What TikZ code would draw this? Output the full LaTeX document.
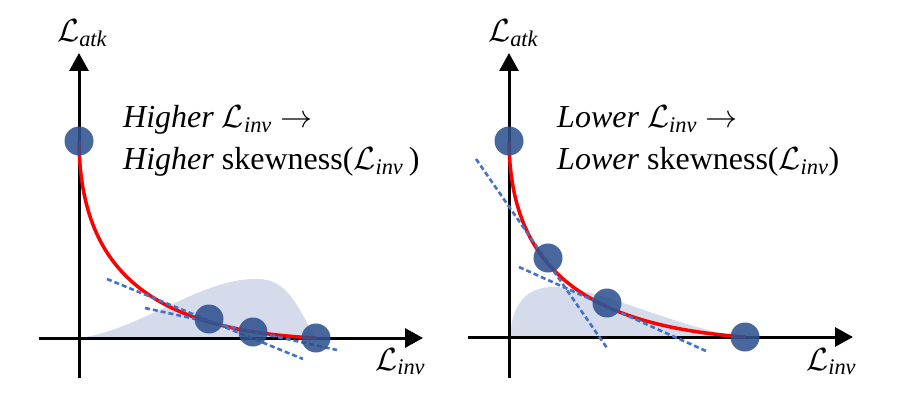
\RequirePackage{fix-cm}
\documentclass[tikz,border=0pt]{standalone}
\usepackage{amsmath}
\usepackage{fontspec}
\setmainfont{Liberation Serif}
\usetikzlibrary{arrows.meta}
\definecolor{dotblue}{RGB}{47,82,143}
\definecolor{shadeblue}{RGB}{213,219,234}
\definecolor{dashblue}{RGB}{68,114,196}
\newcommand{\Lsub}[1]{\mathcal{L}_{\textit{#1}}}
\tikzset{
  axis/.style={line width=3pt,-{Triangle[length=18pt,width=19pt]}},
  redcurve/.style={red,line width=3.5pt},
  tangent/.style={dashblue,line width=2.6pt,dash pattern=on 5pt off 3pt},
  dot/.style={circle,fill=dotblue,fill opacity=0.88,minimum size=29pt,inner sep=0pt},
  lbl/.style={anchor=base west,inner sep=0pt,font=\fontsize{32}{38}\selectfont},
}
\begin{document}
\begin{tikzpicture}[x=1pt,y=-1pt]
\useasboundingbox (0,0) rectangle (909,398);
% ---------- left panel ----------
\fill[shadeblue] (79,338) .. controls (140,330) and (200,279) .. (255,279) .. controls (285,278) and (295,300) .. (315,338) -- cycle;
\coordinate (lxs) at (39,338);
\coordinate (lxe) at (423,338);
\coordinate (lys) at (79,378);
\coordinate (lye) at (79,53);
\draw[axis] (lxs) -- (lxe);
\draw[axis] (lys) -- (lye);
\coordinate (la) at (79,141);
\coordinate (lb) at (209,319);
\coordinate (lc) at (253,332);
\coordinate (ld) at (316,338);
\draw[redcurve] (la) .. controls (80,270) and (150,330) .. (ld);
\coordinate (lt1s) at (107,279);
\coordinate (lt1e) at (303,359);
\coordinate (lt2s) at (145,308);
\coordinate (lt2e) at (337,350);
\draw[tangent] (lt1s) -- (lt1e);
\draw[tangent] (lt2s) -- (lt2e);
\node[dot] (lda) at (la) {};
\node[dot] (ldb) at (lb) {};
\node[dot] (ldc) at (lc) {};
\node[dot] (ldd) at (ld) {};
\node[lbl] (latk) at (57,42) {$\Lsub{atk}$};
\node[lbl] (linv) at (375,370) {$\Lsub{inv}$};
\node[lbl] (lt1) at (123,128) {\textit{Higher} $\Lsub{inv}\rightarrow$};
\node[lbl] (lt2) at (123,170) {\textit{Higher} skewness($\Lsub{inv}$\,)};
% ---------- right panel ----------
\fill[shadeblue] (510,337) .. controls (512,300) and (530,287) .. (553,287) .. controls (600,287) and (680,330) .. (745,337) -- cycle;
\coordinate (rxs) at (468,337);
\coordinate (rxe) at (853,337);
\coordinate (rys) at (509,378);
\coordinate (rye) at (509,53);
\draw[axis] (rxs) -- (rxe);
\draw[axis] (rys) -- (rye);
\coordinate (ra) at (509,141);
\coordinate (rb) at (548,258);
\coordinate (rc) at (607,303);
\coordinate (rd) at (745,337);
\draw[redcurve] (ra) .. controls (510,265) and (580,325) .. (rd);
\coordinate (rt1s) at (476,159);
\coordinate (rt1e) at (607,348);
\coordinate (rt2s) at (519,267);
\coordinate (rt2e) at (706,351);
\draw[tangent] (rt1s) -- (rt1e);
\draw[tangent] (rt2s) -- (rt2e);
\node[dot] (rda) at (ra) {};
\node[dot] (rdb) at (rb) {};
\node[dot] (rdc) at (rc) {};
\node[dot] (rdd) at (rd) {};
\node[lbl] (ratk) at (488,42) {$\Lsub{atk}$};
\node[lbl] (rinv) at (806,370) {$\Lsub{inv}$};
\node[lbl] (rt1) at (557,128) {\textit{Lower} $\Lsub{inv}\rightarrow$};
\node[lbl] (rt2) at (557,170) {\textit{Lower} skewness($\Lsub{inv}$)};
\end{tikzpicture}
\end{document}
